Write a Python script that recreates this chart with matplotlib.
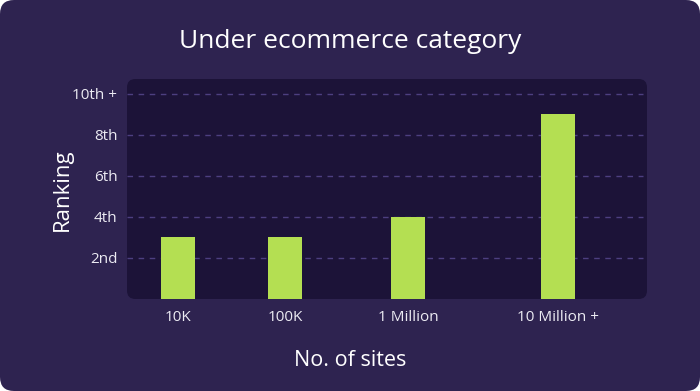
import matplotlib
matplotlib.use("Agg")
import matplotlib.pyplot as plt
from matplotlib.patches import FancyBboxPatch

# dados
categorias = ["10K", "100K", "1 Million", "10 Million +"]
ranking = [3, 3, 4, 9]
ticks_y = [2, 4, 6, 8, 10]
labels_y = ["2nd", "4th", "6th", "8th", "10th +"]

# posição das barras (espaçamento irregular, como no original)
x_pos = [5.1, 15.8, 28.1, 43.1]

bg = "#2e2350"
painel = "#1c1338"
verde = "#b4df52"
texto = "#ecebf3"
grade = "#4d3f80"

plt.rcParams["font.family"] = ["Open Sans", "DejaVu Sans"]

W, H = 700, 391
fig = plt.figure(figsize=(7, 3.91), dpi=100)
fig.patch.set_facecolor("white")

# fundo arredondado
fig.patches.append(FancyBboxPatch((0, 0), 1, 1, boxstyle="round,pad=0,rounding_size=0.02",
                                  transform=fig.transFigure, facecolor=bg, edgecolor="none",
                                  mutation_aspect=W / H, zorder=-2))

left, right, top, bottom = 127, 647, 79, 299
# painel interno arredondado
fig.patches.append(FancyBboxPatch((left / W, 1 - bottom / H), (right - left) / W, (bottom - top) / H,
                                  boxstyle="round,pad=0,rounding_size=0.012",
                                  transform=fig.transFigure, facecolor=painel, edgecolor="none",
                                  mutation_aspect=W / H, zorder=-1))

ax = fig.add_axes([left / W, 1 - bottom / H, (right - left) / W, (bottom - top) / H])
ax.set_facecolor("none")
ax.bar(x_pos, ranking, width=3.4, color=verde, zorder=3)
ax.set_xlim(0, 52)
ax.set_ylim(0, 10.73)

for y in ticks_y:
    ax.axhline(y, xmin=0, xmax=0.992, color=grade, lw=1, ls=(0, (4, 4)), zorder=1)

ax.set_yticks(ticks_y)
ax.set_yticklabels(labels_y)
ax.set_xticks(x_pos)
ax.set_xticklabels(categorias)
ax.tick_params(axis="y", length=0, pad=7, labelsize=11, labelcolor=texto)
ax.tick_params(axis="x", length=0, pad=8, labelsize=11, labelcolor=texto)
for s in ax.spines.values():
    s.set_visible(False)

fig.text(0.5, 1 - 41 / H, "Under ecommerce category", ha="center", va="center",
         fontsize=19, color="white")
fig.text(62 / W, 1 - 190 / H, "Ranking", ha="center", va="center", rotation=90,
         fontsize=16, color="white")
fig.text(0.5, 1 - 360 / H, "No. of sites", ha="center", va="center",
         fontsize=15.5, color="white")

fig.savefig("out.png", dpi=100, facecolor=fig.get_facecolor())
